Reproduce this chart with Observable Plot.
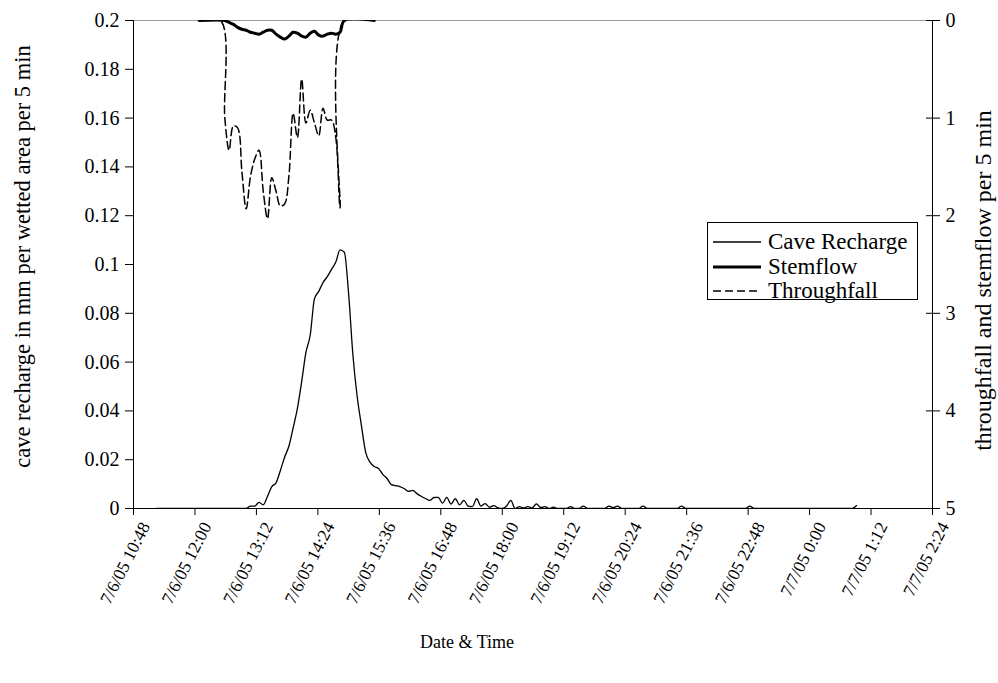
<!DOCTYPE html>
<html><head><meta charset="utf-8">
<script src="https://cdn.jsdelivr.net/npm/d3@7"></script>
<script src="https://cdn.jsdelivr.net/npm/@observablehq/plot@0.6"></script>
<style>
body{margin:0;background:#fff;}
#wrap{position:relative;width:998px;height:683px;font-family:"Liberation Serif","Times New Roman",serif;}
#legend{position:absolute;left:707px;top:222px;width:211px;height:78px;border:1px solid #000;background:#fff;box-sizing:border-box;}
#legend .row{position:absolute;left:0;height:24px;display:flex;align-items:center;font-size:23px;color:#000;white-space:nowrap;}
#legend svg{margin-left:5px;margin-right:7px;}
</style></head><body><div id="wrap"></div>
<script>
// ---- data ----
const tickLabels = ["7/6/05 10:48","7/6/05 12:00","7/6/05 13:12","7/6/05 14:24","7/6/05 15:36","7/6/05 16:48","7/6/05 18:00","7/6/05 19:12","7/6/05 20:24","7/6/05 21:36","7/6/05 22:48","7/7/05 0:00","7/7/05 1:12","7/7/05 2:24"];
const leftTicks = [0,0.02,0.04,0.06,0.08,0.1,0.12,0.14,0.16,0.18,0.2];
const rightTicks = [0,1,2,3,4,5];

const rechargeTimes = ["7/6/05 11:15","7/6/05 13:00","7/6/05 13:05","7/6/05 13:10","7/6/05 13:15","7/6/05 13:20","7/6/05 13:25","7/6/05 13:30","7/6/05 13:35","7/6/05 13:40","7/6/05 13:45","7/6/05 13:50","7/6/05 13:55","7/6/05 14:00","7/6/05 14:05","7/6/05 14:10","7/6/05 14:15","7/6/05 14:20","7/6/05 14:25","7/6/05 14:30","7/6/05 14:35","7/6/05 14:40","7/6/05 14:45","7/6/05 14:50","7/6/05 14:55","7/6/05 15:00","7/6/05 15:05","7/6/05 15:10","7/6/05 15:15","7/6/05 15:20","7/6/05 15:25","7/6/05 15:30","7/6/05 15:35","7/6/05 15:40","7/6/05 15:45","7/6/05 15:50","7/6/05 15:55","7/6/05 16:00","7/6/05 16:05","7/6/05 16:10","7/6/05 16:15","7/6/05 16:20","7/6/05 16:25","7/6/05 16:30","7/6/05 16:35","7/6/05 16:40","7/6/05 16:45","7/6/05 16:50","7/6/05 16:55","7/6/05 17:00","7/6/05 17:05","7/6/05 17:10","7/6/05 17:15","7/6/05 17:20","7/6/05 17:25","7/6/05 17:30","7/6/05 17:35","7/6/05 17:40","7/6/05 17:45","7/6/05 17:50","7/6/05 17:55","7/6/05 18:00","7/6/05 18:05","7/6/05 18:10","7/6/05 18:15","7/6/05 18:20","7/6/05 18:25","7/6/05 18:30","7/6/05 18:35","7/6/05 18:40","7/6/05 18:45","7/6/05 18:50","7/6/05 18:55","7/6/05 19:00","7/6/05 19:05","7/6/05 19:15","7/6/05 19:20","7/6/05 19:25","7/6/05 19:30","7/6/05 19:35","7/6/05 19:40","7/6/05 20:00","7/6/05 20:05","7/6/05 20:10","7/6/05 20:15","7/6/05 20:20","7/6/05 20:40","7/6/05 20:45","7/6/05 20:50","7/6/05 21:25","7/6/05 21:30","7/6/05 21:35","7/6/05 22:45","7/6/05 22:50","7/6/05 22:55","7/7/05 0:50","7/7/05 0:55"];
const rechargeValues = [0,0,0.001,0.001,0.0025,0.0015,0.005,0.009,0.0105,0.0155,0.021,0.0255,0.033,0.041,0.052,0.064,0.071,0.086,0.089,0.0926,0.095,0.098,0.101,0.106,0.105,0.088,0.063,0.046,0.034,0.023,0.019,0.0172,0.0164,0.014,0.0123,0.0098,0.0094,0.009,0.0082,0.007,0.0074,0.0061,0.005,0.0041,0.0033,0.0045,0.0046,0.0022,0.0046,0.0018,0.004,0.0015,0.0033,0.001,0.0008,0.004,0.001,0.002,0.0005,0.0012,0.0003,0,0.001,0.0033,0,0.0008,0.0002,0.0008,0.0002,0.0019,0.0004,0.0008,0,0.0006,0,0,0.0008,0,0,0.001,0,0,0.001,0.0003,0.001,0,0,0.001,0,0,0.001,0,0,0.001,0,0,0.0012];

const stemTimes = ["7/6/05 12:05","7/6/05 12:35","7/6/05 12:40","7/6/05 12:45","7/6/05 12:50","7/6/05 12:55","7/6/05 13:00","7/6/05 13:05","7/6/05 13:10","7/6/05 13:15","7/6/05 13:20","7/6/05 13:25","7/6/05 13:30","7/6/05 13:35","7/6/05 13:40","7/6/05 13:45","7/6/05 13:50","7/6/05 13:55","7/6/05 14:00","7/6/05 14:05","7/6/05 14:10","7/6/05 14:15","7/6/05 14:20","7/6/05 14:25","7/6/05 14:30","7/6/05 14:35","7/6/05 14:40","7/6/05 14:45","7/6/05 14:50","7/6/05 14:55","7/6/05 15:30"];
const stemValues = [0,0,0.02,0.04,0.07,0.09,0.10,0.12,0.13,0.14,0.12,0.10,0.10,0.14,0.17,0.19,0.16,0.12,0.13,0.16,0.17,0.13,0.11,0.15,0.16,0.14,0.13,0.14,0.12,0,0];

const throughTimes = ["7/6/05 12:05","7/6/05 12:30","7/6/05 12:35","7/6/05 12:40","7/6/05 12:45","7/6/05 12:50","7/6/05 12:55","7/6/05 13:00","7/6/05 13:05","7/6/05 13:10","7/6/05 13:15","7/6/05 13:20","7/6/05 13:25","7/6/05 13:30","7/6/05 13:35","7/6/05 13:40","7/6/05 13:45","7/6/05 13:50","7/6/05 13:55","7/6/05 14:00","7/6/05 14:05","7/6/05 14:10","7/6/05 14:15","7/6/05 14:20","7/6/05 14:25","7/6/05 14:30","7/6/05 14:35","7/6/05 14:40","7/6/05 14:45","7/6/05 14:50","7/6/05 14:55","7/6/05 15:30"];
const throughValues = [0,0,1.0,1.33,1.08,1.1,1.55,1.93,1.6,1.42,1.33,1.75,2.03,1.61,1.75,1.9,1.88,1.6,0.95,1.2,0.6,1.05,0.92,1.05,1.18,0.9,1.02,1.02,1.2,1.92,0,0];

const yLeftTitle = "cave recharge in mm per wetted area per 5 min";
const yRightTitle = "throughfall and stemflow per 5 min";
const xTitle = "Date & Time";
const legendNames = ["Cave Recharge","Stemflow","Throughfall"];

// ---- build ----
const parse = d3.timeParse("%m/%d/%y %H:%M");
const xTicks = tickLabels.map(parse);
const labelByTime = new Map(xTicks.map((d, i) => [+d, tickLabels[i]]));
const recharge = rechargeTimes.map((t, i) => ({t: parse(t), v: rechargeValues[i]}));
const stem = stemTimes.map((t, i) => ({t: parse(t), v: stemValues[i]}));
const through = throughTimes.map((t, i) => ({t: parse(t), v: throughValues[i]}));
// right axis (0..5, reversed) is drawn on the same y scale as the left axis (0.2..0)
const toLeft = v => 0.2 - v * 0.04;
const fromLeft = y => Math.round((0.2 - y) / 0.04);
const fmtLeft = d => String(+d.toFixed(2));
const xDomain = [xTicks[0], xTicks[xTicks.length - 1]];
const serif = "'Liberation Serif','Times New Roman',serif";

const chart = Plot.plot({
  width: 998, height: 683,
  marginLeft: 133, marginRight: 66, marginTop: 20, marginBottom: 175,
  style: {fontFamily: serif, fontSize: "17px", color: "#000", background: "#fff"},
  x: {type: "time", domain: xDomain},
  y: {domain: [0, 0.2]},
  marks: [
    Plot.frame({stroke: "#999"}),
    Plot.ruleY([0], {stroke: "#000"}),
    Plot.ruleX(xDomain, {stroke: "#000"}),
    Plot.axisY({anchor: "left", ticks: leftTicks, tickFormat: fmtLeft, tickSize: 8, tickPadding: 6, fontSize: 20, label: null}),
    Plot.axisY({anchor: "right", ticks: rightTicks.map(toLeft), tickFormat: d => String(fromLeft(d)), tickSize: 7, tickPadding: 6, fontSize: 20, label: null}),
    Plot.axisY({anchor: "right", ticks: rightTicks.map(toLeft), tickFormat: () => "", tickSize: -7, label: null}),
    Plot.axisX({ticks: xTicks, tickFormat: () => "", tickSize: 7, label: null}),
    Plot.axisX({ticks: xTicks, tickFormat: d => labelByTime.get(+d), tickRotate: -63, tickSize: 0, tickPadding: 15, dx: 12, fontSize: 17.5, label: null}),
    Plot.text([yLeftTitle], {frameAnchor: "left", textAnchor: "middle", rotate: -90, dx: -111, dy: -8, fontSize: 22.5}),
    Plot.text([yRightTitle], {frameAnchor: "right", textAnchor: "middle", rotate: -90, dx: 51, dy: 16, fontSize: 24}),
    Plot.text([xTitle], {frameAnchor: "bottom", dx: -66, dy: 139, fontSize: 18}),
    Plot.line(recharge, {x: "t", y: "v", curve: "monotone-x", stroke: "#000", strokeWidth: 1.3, clip: true}),
    Plot.line(stem, {x: "t", y: d => toLeft(d.v), curve: "catmull-rom", stroke: "#000", strokeWidth: 3, clip: true}),
    Plot.line(through, {x: "t", y: d => toLeft(d.v), curve: "catmull-rom", stroke: "#000", strokeWidth: 1.5, strokeDasharray: "8,4", clip: true})
  ]
});
const wrap = document.getElementById("wrap");
wrap.appendChild(chart);

// legend (inside plot area, as in the original)
const legend = document.createElement("div");
legend.id = "legend";
const styles = [{w: 1.3, dash: null}, {w: 3, dash: null}, {w: 1.5, dash: "8,4"}];
legendNames.forEach((name, i) => {
  const row = document.createElement("div");
  row.className = "row";
  row.style.top = (7 + i * 24.5) + "px";
  row.innerHTML = `<svg width="48" height="10"><line x1="0" x2="48" y1="5" y2="5" stroke="#000" stroke-width="${styles[i].w}" ${styles[i].dash ? `stroke-dasharray="${styles[i].dash}"` : ""}/></svg><span>${name}</span>`;
  legend.appendChild(row);
});
wrap.appendChild(legend);
</script>
</body></html>
